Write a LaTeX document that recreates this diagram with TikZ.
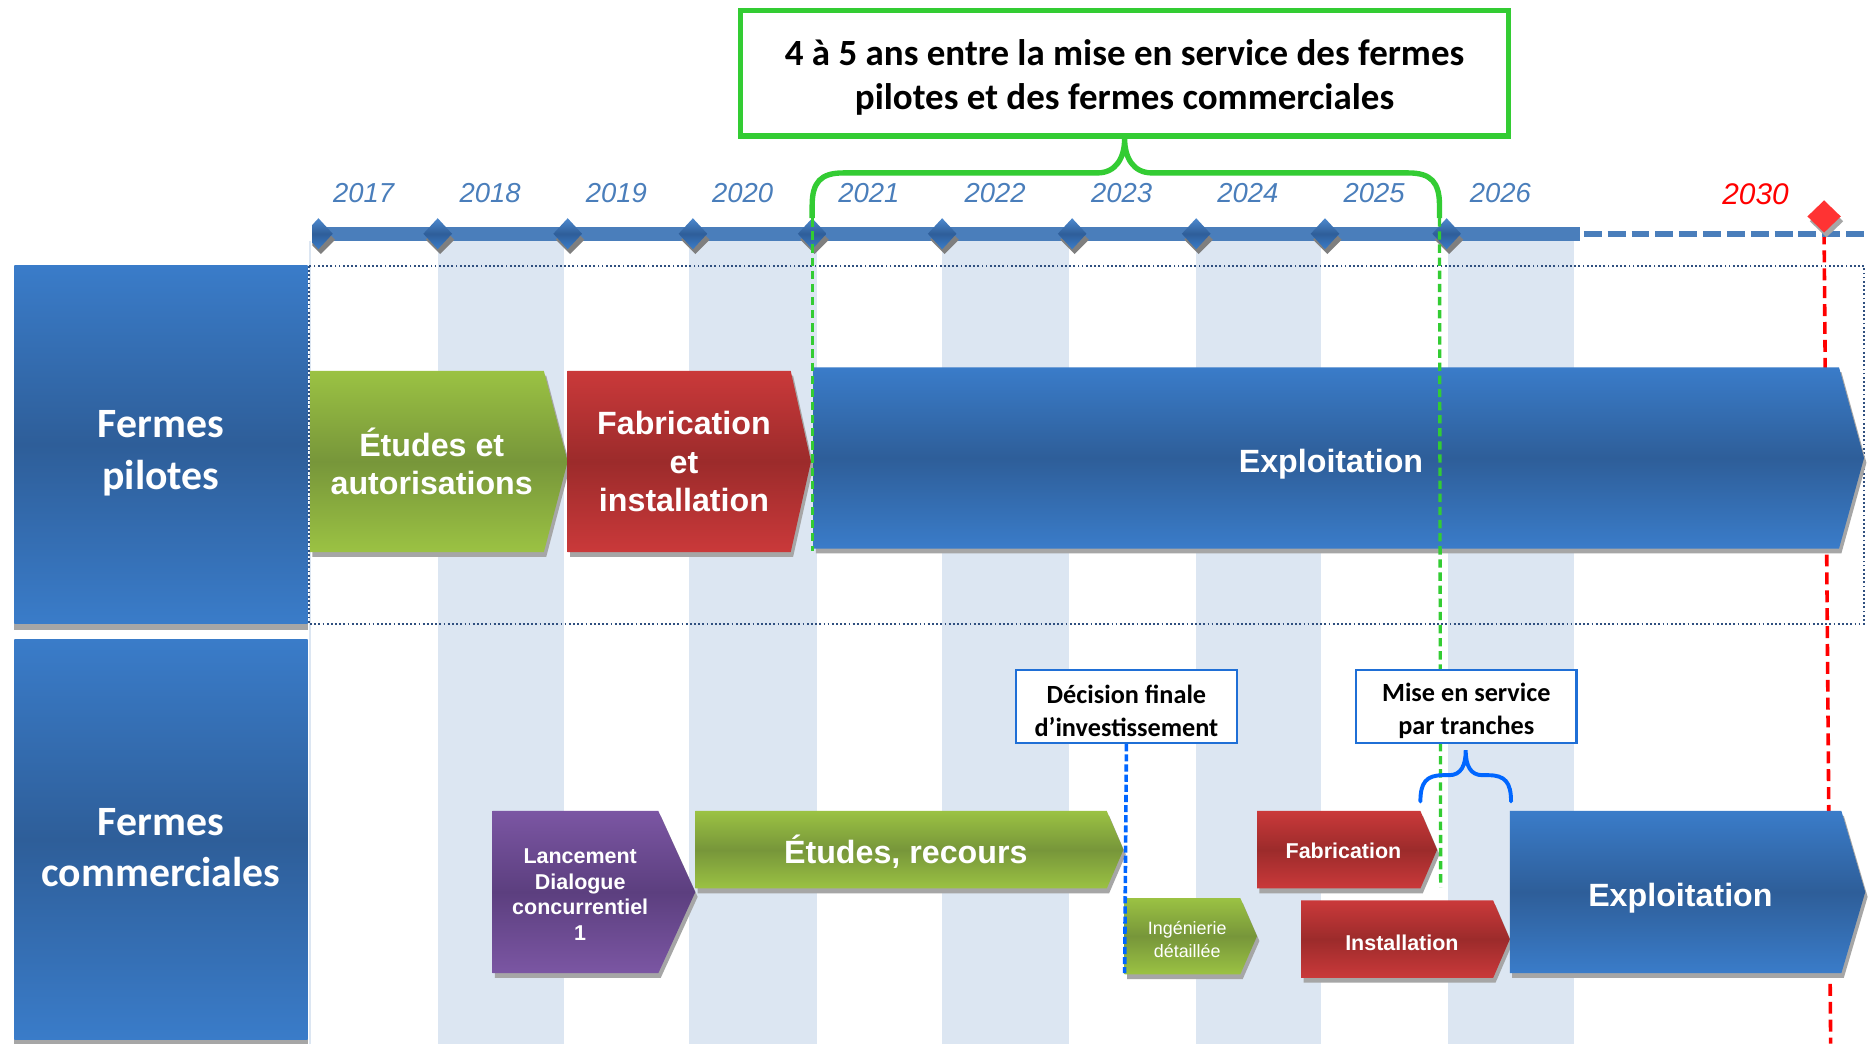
\documentclass[tikz,border=0pt]{standalone}
\usepackage{fontspec}
\setmainfont{Liberation Sans}
\newfontfamily\calfont{Carlito}
\usetikzlibrary{calc}

\definecolor{bluetop}{HTML}{3A7CC9}
\definecolor{bluemid}{HTML}{2E5E99}
\definecolor{greentop}{HTML}{9BC243}
\definecolor{greenmid}{HTML}{77963A}
\definecolor{redtop}{HTML}{CA393A}
\definecolor{redmid}{HTML}{9C2B2B}
\definecolor{purptop}{HTML}{7B56A3}
\definecolor{purpmid}{HTML}{5C3F7F}
\definecolor{colshade}{HTML}{DCE6F2}
\definecolor{barblue}{HTML}{4A7EBB}
\definecolor{yearblue}{HTML}{4A7EBB}
\definecolor{brgreen}{HTML}{33CC33}
\definecolor{callblue}{HTML}{1F6FD6}
\definecolor{dashblue}{HTML}{0066FF}
\definecolor{shadowgray}{HTML}{A6A6A6}
\definecolor{dotblue}{HTML}{2F4F7F}
\definecolor{dshadow}{HTML}{7F7F7F}
\definecolor{redmark}{HTML}{FF3333}

\newcommand\chev[9]{%
  \fill[shadowgray] (#3+2,#6+4) -- (#4+2,#6+4) -- (#5+2,{(#6+#7)/2+4}) -- (#4+2,#7+4) -- (#3+2,#7+4) -- cycle;
  \shade[#2] (#3,#6) -- (#4,#6) -- (#5,{(#6+#7)/2}) -- (#4,#7) -- (#3,#7) -- cycle;
  \node[#8] (#1) at ({(#3+#4)/2+4},{(#6+#7)/2}) {#9};
}
\newcommand\diam[1]{%
  \fill[dshadow] (#1+2,189) -- (#1+14,201) -- (#1+2,213) -- (#1-10,201) -- cycle;
  \shade[top color=bluetop!90!white, bottom color=bluetop, middle color=bluemid] (#1,183) -- (#1+12,196) -- (#1,209) -- (#1-12,196) -- cycle;
}

\tikzset{
  gshade/.style={top color=greentop, bottom color=greentop, middle color=greenmid},
  rshade/.style={top color=redtop, bottom color=redtop, middle color=redmid},
  bshade/.style={top color=bluetop, bottom color=bluetop, middle color=bluemid},
  pshade/.style={top color=purptop, bottom color=purptop, middle color=purpmid},
  bigtxt/.style={text=white, align=center, inner sep=0pt, font=\bfseries\fontsize{27}{32}\selectfont},
  smalltxt/.style={text=white, align=center, inner sep=0pt, font=\bfseries\fontsize{18}{21.5}\selectfont},
  thintxt/.style={text=white, align=center, inner sep=0pt, font=\fontsize{15}{19}\selectfont},
  yeartxt/.style={text=yearblue, inner sep=0pt, font=\itshape\fontsize{23}{23}\selectfont},
  rowlabel/.style={bshade, minimum width=246pt, text=white, align=center, inner sep=0pt, font=\calfont\bfseries\fontsize{35}{43}\selectfont},
  callout/.style={draw=callblue, line width=2pt, fill=white, minimum width=185pt, minimum height=61pt, align=center, inner sep=0pt, font=\calfont\bfseries\fontsize{22}{27}\selectfont},
  calltext/.style={inner sep=0pt, align=center, font=\calfont\bfseries\fontsize{22}{27}\selectfont},
  topbox/.style={draw=brgreen, line width=4.5pt, fill=white, minimum width=644pt, minimum height=105pt, inner sep=0pt},
  toptext/.style={inner sep=0pt, align=center, font=\calfont\bfseries\fontsize{31}{37}\selectfont},
  rowtext/.style={inner sep=0pt, text=white, align=center, font=\calfont\bfseries\fontsize{35}{43}\selectfont},
  gdash/.style={brgreen, line width=2.8pt, dash pattern=on 7pt off 4pt},
}

\begin{document}
\begin{tikzpicture}[x=1pt,y=-1pt]
\useasboundingbox (0,0) rectangle (1568,875);
\fill[white] (0,0) rectangle (1568,875);

% shaded year columns
\foreach \a/\b in {367/473,578/685,790/896,1003/1108,1214/1320}
  \fill[colshade] (\a,202) rectangle (\b,875);
\draw[colshade, line width=1.5pt] (260,202) -- (260,875);

% dotted frame of the pilot row
\draw[dotblue, line width=1.3pt, dash pattern=on 1.5pt off 2pt] (259,223) rectangle (1563,523);

% red 2030 line
\coordinate (r2030top) at (1529.5,195);
\coordinate (r2030bot) at (1535,875);
\draw[red, line width=3pt, dash pattern=on 10pt off 5pt] (r2030top) -- (r2030bot);

% timeline
\fill[barblue] (262,190) rectangle (1325,202);
\draw[barblue, line width=5pt, dash pattern=on 15pt off 5pt] (1328,196) -- (1568,196);
\begin{scope}
  \clip (262,170) rectangle (300,220);
  \diam{267}
\end{scope}
\foreach \x in {367,476,581,681,790,899,1003,1111,1213} { \diam{\x} }

% red 2030 diamond
\fill[shadowgray] (1531.5,172) -- (1545.5,185.5) -- (1531.5,199) -- (1517.5,185.5) -- cycle;
\fill[redmark] (1529.5,168) -- (1543.5,181.5) -- (1529.5,195) -- (1515.5,181.5) -- cycle;

% years
\foreach \y [count=\i from 0] in {2017,2018,2019,2020,2021,2022,2023,2024,2025,2026}
  \node[yeartxt] (y\y) at ({305+105.9*\i},162) {\y};
\node[yeartxt, text=red, font=\itshape\fontsize{25}{25}\selectfont] (y2030) at (1472,163) {2030};

% row labels
\fill[shadowgray] (12,522) rectangle (258,528);
\shade[bshade] (12,223) rectangle (258,523);
\node[rowtext] (pil) at (135,380) {Fermes\\pilotes};
\fill[shadowgray] (12,870) rectangle (258,875);
\shade[bshade] (12,536) rectangle (258,872);
\node[rowtext] (com) at (135,711) {Fermes\\commerciales};

% pilot row
\chev{etudes}{gshade}{260}{456}{476}{311}{463}{bigtxt}{Études et\\autorisations}
\chev{fabinst}{rshade}{476}{663}{680}{311}{463}{bigtxt}{Fabrication\\et\\installation}
\chev{explo1}{bshade}{682}{1542}{1563}{308}{460}{bigtxt,yshift=-5pt}{Exploitation}

% commercial row
\chev{lanc}{pshade}{413}{552}{583}{680}{816}{smalltxt,yshift=-2pt}{Lancement\\Dialogue\\concurrentiel\\1}
\chev{recours}{gshade}{583}{928}{942}{680}{745}{bigtxt,yshift=-2pt}{Études, recours}
\chev{ing}{gshade}{943}{1040}{1054}{753}{817}{thintxt,yshift=-3pt}{Ingénierie\\détaillée}
\chev{fab2}{rshade}{1054}{1191}{1205}{680}{745}{smalltxt,yshift=-1pt}{Fabrication}
\chev{inst2}{rshade}{1091}{1252}{1266}{755}{820}{smalltxt,yshift=-3pt}{Installation}
\chev{explo2}{bshade}{1266}{1544}{1564}{680}{816}{bigtxt,yshift=-5pt}{Exploitation}

% green milestone lines (behind callouts)
\coordinate (brL) at (681,183);
\coordinate (brR) at (1207,183);
\coordinate (gL) at (681,462);
\coordinate (gR) at (1208,744);
\draw[gdash] (brL) -- (gL);
\draw[gdash] (brR) -- (gR);

% callouts
\node[callout] (dec) at (944.5,592.5) {};
\node[calltext] (dect) at (944.5,596) {Décision finale\\d’investissement};
\node[callout] (mise) at (1229.5,592.5) {};
\node[calltext] (miset) at (1229.5,596) {Mise en service\\par tranches};
\coordinate (decbot) at (943,816);
\draw[dashblue, line width=3pt, dash pattern=on 6pt off 2.5pt] (dec.south) -- (decbot);

% blue brace under "Mise en service"
\coordinate (mbL) at (1191,672);
\coordinate (mbR) at (1267,672);
\draw[dashblue, line width=3.3pt, line cap=round]
  (mbL) .. controls (1191,656) and (1196,650) .. (1210,650) -- (1215,650)
  .. controls (1225,650) and (1229,642) .. (1229,629)
  .. controls (1229,642) and (1233,650) .. (1243,650) -- (1248,650)
  .. controls (1262,650) and (1267,656) .. (mbR);

% top note and green brace
\node[topbox] (note) at (943,61.5) {};
\node[toptext] (notet) at (943,65) {4 à 5 ans entre la mise en service des fermes\\pilotes et des fermes commerciales};
\draw[brgreen, line width=4.5pt]
  (brL) -- (681,172) .. controls (681,153) and (688,145) .. (707,145) -- (920,145)
  .. controls (936,145) and (943,132) .. (note.south)
  .. controls (943,132) and (950,145) .. (966,145) -- (1181,145)
  .. controls (1200,145) and (1207,153) .. (1207,172) -- (brR);
\end{tikzpicture}
\end{document}
